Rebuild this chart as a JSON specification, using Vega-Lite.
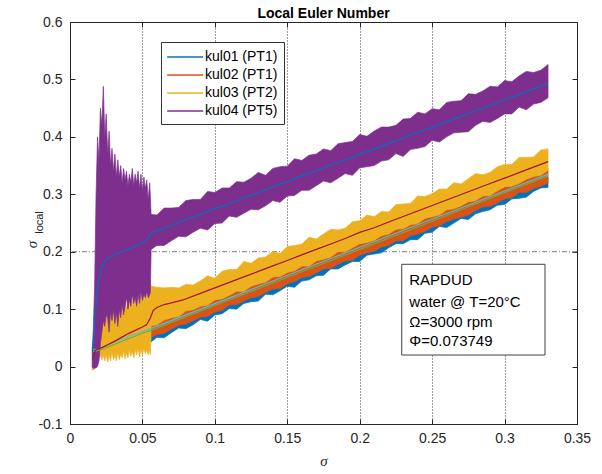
{
"$schema": "https://vega.github.io/schema/vega-lite/v6.json",
"width": 507,
"height": 402,
"autosize": {"type": "none"},
"padding": {"left": 70, "top": 22, "right": 25, "bottom": 50},
"background": "white",
"title": {"text": "Local Euler Number", "fontSize": 14, "fontWeight": "bold", "font": "Liberation Sans", "color": "black", "offset": 5, "dy": 11, "anchor": "middle"},
"config": {"font": "Liberation Sans", "view": {"stroke": "#262626", "strokeWidth": 1}},
"datasets": {
"bands": [
{"s":"kul01 (PT1)","x":0.056,"lo":0.043,"hi":0.062},{"s":"kul01 (PT1)","x":0.06,"lo":0.051,"hi":0.066},{"s":"kul01 (PT1)","x":0.065,"lo":0.050,"hi":0.070},{"s":"kul01 (PT1)","x":0.07,"lo":0.059,"hi":0.075},{"s":"kul01 (PT1)","x":0.075,"lo":0.067,"hi":0.080},{"s":"kul01 (PT1)","x":0.08,"lo":0.066,"hi":0.085},{"s":"kul01 (PT1)","x":0.085,"lo":0.073,"hi":0.090},{"s":"kul01 (PT1)","x":0.09,"lo":0.082,"hi":0.095},{"s":"kul01 (PT1)","x":0.095,"lo":0.079,"hi":0.100},{"s":"kul01 (PT1)","x":0.1,"lo":0.090,"hi":0.105},{"s":"kul01 (PT1)","x":0.105,"lo":0.092,"hi":0.110},{"s":"kul01 (PT1)","x":0.11,"lo":0.101,"hi":0.115},{"s":"kul01 (PT1)","x":0.115,"lo":0.100,"hi":0.119},{"s":"kul01 (PT1)","x":0.12,"lo":0.110,"hi":0.124},{"s":"kul01 (PT1)","x":0.125,"lo":0.113,"hi":0.129},{"s":"kul01 (PT1)","x":0.13,"lo":0.114,"hi":0.134},{"s":"kul01 (PT1)","x":0.135,"lo":0.126,"hi":0.139},{"s":"kul01 (PT1)","x":0.14,"lo":0.125,"hi":0.144},{"s":"kul01 (PT1)","x":0.145,"lo":0.132,"hi":0.149},{"s":"kul01 (PT1)","x":0.15,"lo":0.140,"hi":0.154},{"s":"kul01 (PT1)","x":0.155,"lo":0.138,"hi":0.159},{"s":"kul01 (PT1)","x":0.16,"lo":0.149,"hi":0.164},{"s":"kul01 (PT1)","x":0.165,"lo":0.151,"hi":0.168},{"s":"kul01 (PT1)","x":0.17,"lo":0.158,"hi":0.173},{"s":"kul01 (PT1)","x":0.175,"lo":0.159,"hi":0.178},{"s":"kul01 (PT1)","x":0.18,"lo":0.170,"hi":0.183},{"s":"kul01 (PT1)","x":0.185,"lo":0.170,"hi":0.188},{"s":"kul01 (PT1)","x":0.19,"lo":0.177,"hi":0.193},{"s":"kul01 (PT1)","x":0.195,"lo":0.183,"hi":0.198},{"s":"kul01 (PT1)","x":0.2,"lo":0.183,"hi":0.203},{"s":"kul01 (PT1)","x":0.205,"lo":0.194,"hi":0.208},{"s":"kul01 (PT1)","x":0.21,"lo":0.196,"hi":0.213},{"s":"kul01 (PT1)","x":0.215,"lo":0.198,"hi":0.217},{"s":"kul01 (PT1)","x":0.22,"lo":0.207,"hi":0.222},{"s":"kul01 (PT1)","x":0.225,"lo":0.214,"hi":0.227},{"s":"kul01 (PT1)","x":0.23,"lo":0.214,"hi":0.232},{"s":"kul01 (PT1)","x":0.235,"lo":0.221,"hi":0.237},{"s":"kul01 (PT1)","x":0.24,"lo":0.221,"hi":0.242},{"s":"kul01 (PT1)","x":0.245,"lo":0.232,"hi":0.247},{"s":"kul01 (PT1)","x":0.25,"lo":0.234,"hi":0.252},{"s":"kul01 (PT1)","x":0.255,"lo":0.244,"hi":0.257},{"s":"kul01 (PT1)","x":0.26,"lo":0.242,"hi":0.262},{"s":"kul01 (PT1)","x":0.265,"lo":0.250,"hi":0.266},{"s":"kul01 (PT1)","x":0.27,"lo":0.258,"hi":0.271},{"s":"kul01 (PT1)","x":0.275,"lo":0.256,"hi":0.276},{"s":"kul01 (PT1)","x":0.28,"lo":0.266,"hi":0.281},{"s":"kul01 (PT1)","x":0.285,"lo":0.270,"hi":0.286},{"s":"kul01 (PT1)","x":0.29,"lo":0.273,"hi":0.291},{"s":"kul01 (PT1)","x":0.295,"lo":0.281,"hi":0.296},{"s":"kul01 (PT1)","x":0.3,"lo":0.282,"hi":0.301},{"s":"kul01 (PT1)","x":0.305,"lo":0.292,"hi":0.306},{"s":"kul01 (PT1)","x":0.31,"lo":0.293,"hi":0.311},{"s":"kul01 (PT1)","x":0.315,"lo":0.295,"hi":0.315},{"s":"kul01 (PT1)","x":0.32,"lo":0.305,"hi":0.320},{"s":"kul01 (PT1)","x":0.325,"lo":0.311,"hi":0.325},{"s":"kul01 (PT1)","x":0.33,"lo":0.312,"hi":0.330},
{"s":"kul02 (PT1)","x":0.056,"lo":0.051,"hi":0.075},{"s":"kul02 (PT1)","x":0.06,"lo":0.056,"hi":0.077},{"s":"kul02 (PT1)","x":0.065,"lo":0.058,"hi":0.085},{"s":"kul02 (PT1)","x":0.07,"lo":0.065,"hi":0.089},{"s":"kul02 (PT1)","x":0.075,"lo":0.072,"hi":0.091},{"s":"kul02 (PT1)","x":0.08,"lo":0.074,"hi":0.101},{"s":"kul02 (PT1)","x":0.085,"lo":0.080,"hi":0.103},{"s":"kul02 (PT1)","x":0.09,"lo":0.086,"hi":0.109},{"s":"kul02 (PT1)","x":0.095,"lo":0.087,"hi":0.111},{"s":"kul02 (PT1)","x":0.1,"lo":0.095,"hi":0.120},{"s":"kul02 (PT1)","x":0.105,"lo":0.098,"hi":0.122},{"s":"kul02 (PT1)","x":0.11,"lo":0.107,"hi":0.128},{"s":"kul02 (PT1)","x":0.115,"lo":0.108,"hi":0.135},{"s":"kul02 (PT1)","x":0.12,"lo":0.114,"hi":0.135},{"s":"kul02 (PT1)","x":0.125,"lo":0.120,"hi":0.144},{"s":"kul02 (PT1)","x":0.13,"lo":0.122,"hi":0.148},{"s":"kul02 (PT1)","x":0.135,"lo":0.129,"hi":0.151},{"s":"kul02 (PT1)","x":0.14,"lo":0.135,"hi":0.160},{"s":"kul02 (PT1)","x":0.145,"lo":0.136,"hi":0.161},{"s":"kul02 (PT1)","x":0.15,"lo":0.144,"hi":0.168},{"s":"kul02 (PT1)","x":0.155,"lo":0.148,"hi":0.171},{"s":"kul02 (PT1)","x":0.16,"lo":0.155,"hi":0.179},{"s":"kul02 (PT1)","x":0.165,"lo":0.157,"hi":0.179},{"s":"kul02 (PT1)","x":0.17,"lo":0.163,"hi":0.188},{"s":"kul02 (PT1)","x":0.175,"lo":0.170,"hi":0.191},{"s":"kul02 (PT1)","x":0.18,"lo":0.171,"hi":0.195},{"s":"kul02 (PT1)","x":0.185,"lo":0.178,"hi":0.204},{"s":"kul02 (PT1)","x":0.19,"lo":0.184,"hi":0.204},{"s":"kul02 (PT1)","x":0.195,"lo":0.185,"hi":0.211},{"s":"kul02 (PT1)","x":0.2,"lo":0.194,"hi":0.218},{"s":"kul02 (PT1)","x":0.205,"lo":0.198,"hi":0.220},{"s":"kul02 (PT1)","x":0.21,"lo":0.201,"hi":0.224},{"s":"kul02 (PT1)","x":0.215,"lo":0.208,"hi":0.232},{"s":"kul02 (PT1)","x":0.22,"lo":0.211,"hi":0.235},{"s":"kul02 (PT1)","x":0.225,"lo":0.219,"hi":0.243},{"s":"kul02 (PT1)","x":0.23,"lo":0.219,"hi":0.244},{"s":"kul02 (PT1)","x":0.235,"lo":0.228,"hi":0.251},{"s":"kul02 (PT1)","x":0.24,"lo":0.231,"hi":0.253},{"s":"kul02 (PT1)","x":0.245,"lo":0.235,"hi":0.262},{"s":"kul02 (PT1)","x":0.25,"lo":0.243,"hi":0.265},{"s":"kul02 (PT1)","x":0.255,"lo":0.245,"hi":0.268},{"s":"kul02 (PT1)","x":0.26,"lo":0.252,"hi":0.277},{"s":"kul02 (PT1)","x":0.265,"lo":0.257,"hi":0.279},{"s":"kul02 (PT1)","x":0.27,"lo":0.260,"hi":0.284},{"s":"kul02 (PT1)","x":0.275,"lo":0.264,"hi":0.291},{"s":"kul02 (PT1)","x":0.28,"lo":0.272,"hi":0.293},{"s":"kul02 (PT1)","x":0.285,"lo":0.278,"hi":0.301},{"s":"kul02 (PT1)","x":0.29,"lo":0.279,"hi":0.302},{"s":"kul02 (PT1)","x":0.295,"lo":0.285,"hi":0.310},{"s":"kul02 (PT1)","x":0.3,"lo":0.292,"hi":0.317},{"s":"kul02 (PT1)","x":0.305,"lo":0.294,"hi":0.318},{"s":"kul02 (PT1)","x":0.31,"lo":0.303,"hi":0.323},{"s":"kul02 (PT1)","x":0.315,"lo":0.303,"hi":0.330},{"s":"kul02 (PT1)","x":0.32,"lo":0.310,"hi":0.335},{"s":"kul02 (PT1)","x":0.325,"lo":0.314,"hi":0.337},{"s":"kul02 (PT1)","x":0.33,"lo":0.320,"hi":0.346},
{"s":"kul03 (PT2)","x":0.0153,"lo":-0.006,"hi":0.0},{"s":"kul03 (PT2)","x":0.016,"lo":-0.006,"hi":0.005},{"s":"kul03 (PT2)","x":0.017,"lo":-0.004,"hi":0.01},{"s":"kul03 (PT2)","x":0.018,"lo":0.005,"hi":0.03},{"s":"kul03 (PT2)","x":0.019,"lo":0.012,"hi":0.06},{"s":"kul03 (PT2)","x":0.02,"lo":0.015,"hi":0.09},{"s":"kul03 (PT2)","x":0.021,"lo":0.02,"hi":0.085},{"s":"kul03 (PT2)","x":0.022,"lo":0.012,"hi":0.1},{"s":"kul03 (PT2)","x":0.023,"lo":0.02,"hi":0.09},{"s":"kul03 (PT2)","x":0.024,"lo":0.01,"hi":0.11},{"s":"kul03 (PT2)","x":0.025,"lo":0.022,"hi":0.085},{"s":"kul03 (PT2)","x":0.026,"lo":0.008,"hi":0.1},{"s":"kul03 (PT2)","x":0.027,"lo":0.02,"hi":0.09},{"s":"kul03 (PT2)","x":0.028,"lo":0.01,"hi":0.115},{"s":"kul03 (PT2)","x":0.029,"lo":0.025,"hi":0.09},{"s":"kul03 (PT2)","x":0.03,"lo":0.012,"hi":0.105},{"s":"kul03 (PT2)","x":0.031,"lo":0.02,"hi":0.095},{"s":"kul03 (PT2)","x":0.032,"lo":0.01,"hi":0.12},{"s":"kul03 (PT2)","x":0.033,"lo":0.025,"hi":0.09},{"s":"kul03 (PT2)","x":0.034,"lo":0.012,"hi":0.11},{"s":"kul03 (PT2)","x":0.035,"lo":0.022,"hi":0.1},{"s":"kul03 (PT2)","x":0.036,"lo":0.015,"hi":0.125},{"s":"kul03 (PT2)","x":0.037,"lo":0.028,"hi":0.095},{"s":"kul03 (PT2)","x":0.038,"lo":0.013,"hi":0.115},{"s":"kul03 (PT2)","x":0.039,"lo":0.025,"hi":0.1},{"s":"kul03 (PT2)","x":0.04,"lo":0.015,"hi":0.12},{"s":"kul03 (PT2)","x":0.041,"lo":0.03,"hi":0.105},{"s":"kul03 (PT2)","x":0.042,"lo":0.018,"hi":0.13},{"s":"kul03 (PT2)","x":0.043,"lo":0.027,"hi":0.11},{"s":"kul03 (PT2)","x":0.044,"lo":0.015,"hi":0.125},{"s":"kul03 (PT2)","x":0.045,"lo":0.03,"hi":0.105},{"s":"kul03 (PT2)","x":0.046,"lo":0.02,"hi":0.13},{"s":"kul03 (PT2)","x":0.047,"lo":0.032,"hi":0.11},{"s":"kul03 (PT2)","x":0.048,"lo":0.017,"hi":0.125},{"s":"kul03 (PT2)","x":0.049,"lo":0.03,"hi":0.115},{"s":"kul03 (PT2)","x":0.05,"lo":0.02,"hi":0.135},{"s":"kul03 (PT2)","x":0.051,"lo":0.032,"hi":0.115},{"s":"kul03 (PT2)","x":0.052,"lo":0.022,"hi":0.13},{"s":"kul03 (PT2)","x":0.053,"lo":0.03,"hi":0.12},{"s":"kul03 (PT2)","x":0.054,"lo":0.02,"hi":0.14},{"s":"kul03 (PT2)","x":0.055,"lo":0.03,"hi":0.15},{"s":"kul03 (PT2)","x":0.0555,"lo":0.02,"hi":0.148},
{"s":"kul03 (PT2)","x":0.056,"lo":0.071,"hi":0.140},{"s":"kul03 (PT2)","x":0.06,"lo":0.073,"hi":0.138},{"s":"kul03 (PT2)","x":0.065,"lo":0.081,"hi":0.137},{"s":"kul03 (PT2)","x":0.07,"lo":0.085,"hi":0.138},{"s":"kul03 (PT2)","x":0.075,"lo":0.087,"hi":0.137},{"s":"kul03 (PT2)","x":0.08,"lo":0.097,"hi":0.143},{"s":"kul03 (PT2)","x":0.085,"lo":0.099,"hi":0.142},{"s":"kul03 (PT2)","x":0.09,"lo":0.105,"hi":0.149},{"s":"kul03 (PT2)","x":0.095,"lo":0.107,"hi":0.158},{"s":"kul03 (PT2)","x":0.1,"lo":0.116,"hi":0.154},{"s":"kul03 (PT2)","x":0.105,"lo":0.118,"hi":0.166},{"s":"kul03 (PT2)","x":0.11,"lo":0.124,"hi":0.169},{"s":"kul03 (PT2)","x":0.115,"lo":0.131,"hi":0.169},{"s":"kul03 (PT2)","x":0.12,"lo":0.131,"hi":0.183},{"s":"kul03 (PT2)","x":0.125,"lo":0.140,"hi":0.180},{"s":"kul03 (PT2)","x":0.13,"lo":0.144,"hi":0.189},{"s":"kul03 (PT2)","x":0.135,"lo":0.147,"hi":0.191},{"s":"kul03 (PT2)","x":0.14,"lo":0.156,"hi":0.200},{"s":"kul03 (PT2)","x":0.145,"lo":0.157,"hi":0.197},{"s":"kul03 (PT2)","x":0.15,"lo":0.164,"hi":0.209},{"s":"kul03 (PT2)","x":0.155,"lo":0.167,"hi":0.211},{"s":"kul03 (PT2)","x":0.16,"lo":0.175,"hi":0.213},{"s":"kul03 (PT2)","x":0.165,"lo":0.175,"hi":0.225},{"s":"kul03 (PT2)","x":0.17,"lo":0.184,"hi":0.222},{"s":"kul03 (PT2)","x":0.175,"lo":0.187,"hi":0.231},{"s":"kul03 (PT2)","x":0.18,"lo":0.191,"hi":0.239},{"s":"kul03 (PT2)","x":0.185,"lo":0.200,"hi":0.238},{"s":"kul03 (PT2)","x":0.19,"lo":0.200,"hi":0.241},{"s":"kul03 (PT2)","x":0.195,"lo":0.207,"hi":0.252},{"s":"kul03 (PT2)","x":0.2,"lo":0.214,"hi":0.254},{"s":"kul03 (PT2)","x":0.205,"lo":0.216,"hi":0.264},{"s":"kul03 (PT2)","x":0.21,"lo":0.220,"hi":0.261},{"s":"kul03 (PT2)","x":0.215,"lo":0.228,"hi":0.270},{"s":"kul03 (PT2)","x":0.22,"lo":0.231,"hi":0.269},{"s":"kul03 (PT2)","x":0.225,"lo":0.239,"hi":0.282},{"s":"kul03 (PT2)","x":0.23,"lo":0.240,"hi":0.283},{"s":"kul03 (PT2)","x":0.235,"lo":0.247,"hi":0.284},{"s":"kul03 (PT2)","x":0.24,"lo":0.249,"hi":0.297},{"s":"kul03 (PT2)","x":0.245,"lo":0.258,"hi":0.296},{"s":"kul03 (PT2)","x":0.25,"lo":0.261,"hi":0.301},{"s":"kul03 (PT2)","x":0.255,"lo":0.264,"hi":0.309},{"s":"kul03 (PT2)","x":0.26,"lo":0.273,"hi":0.309},{"s":"kul03 (PT2)","x":0.265,"lo":0.275,"hi":0.320},{"s":"kul03 (PT2)","x":0.27,"lo":0.280,"hi":0.318},{"s":"kul03 (PT2)","x":0.275,"lo":0.287,"hi":0.327},{"s":"kul03 (PT2)","x":0.28,"lo":0.289,"hi":0.336},{"s":"kul03 (PT2)","x":0.285,"lo":0.297,"hi":0.334},{"s":"kul03 (PT2)","x":0.29,"lo":0.298,"hi":0.338},{"s":"kul03 (PT2)","x":0.295,"lo":0.306,"hi":0.348},{"s":"kul03 (PT2)","x":0.3,"lo":0.313,"hi":0.352},{"s":"kul03 (PT2)","x":0.305,"lo":0.314,"hi":0.352},{"s":"kul03 (PT2)","x":0.31,"lo":0.319,"hi":0.364},{"s":"kul03 (PT2)","x":0.315,"lo":0.326,"hi":0.364},{"s":"kul03 (PT2)","x":0.32,"lo":0.331,"hi":0.365},{"s":"kul03 (PT2)","x":0.325,"lo":0.333,"hi":0.377},{"s":"kul03 (PT2)","x":0.33,"lo":0.342,"hi":0.379},
{"s":"kul04 (PT5)","x":0.0153,"lo":0.0,"hi":0.03},{"s":"kul04 (PT5)","x":0.016,"lo":-0.003,"hi":0.06},{"s":"kul04 (PT5)","x":0.017,"lo":-0.003,"hi":0.14},{"s":"kul04 (PT5)","x":0.018,"lo":-0.002,"hi":0.3},{"s":"kul04 (PT5)","x":0.019,"lo":0.0,"hi":0.4},{"s":"kul04 (PT5)","x":0.02,"lo":0.01,"hi":0.36},{"s":"kul04 (PT5)","x":0.021,"lo":0.04,"hi":0.45},{"s":"kul04 (PT5)","x":0.022,"lo":0.06,"hi":0.42},{"s":"kul04 (PT5)","x":0.023,"lo":0.08,"hi":0.488},{"s":"kul04 (PT5)","x":0.024,"lo":0.07,"hi":0.4},{"s":"kul04 (PT5)","x":0.025,"lo":0.09,"hi":0.44},{"s":"kul04 (PT5)","x":0.026,"lo":0.085,"hi":0.37},{"s":"kul04 (PT5)","x":0.027,"lo":0.06,"hi":0.41},{"s":"kul04 (PT5)","x":0.028,"lo":0.095,"hi":0.35},{"s":"kul04 (PT5)","x":0.029,"lo":0.08,"hi":0.38},{"s":"kul04 (PT5)","x":0.03,"lo":0.1,"hi":0.34},{"s":"kul04 (PT5)","x":0.031,"lo":0.075,"hi":0.37},{"s":"kul04 (PT5)","x":0.032,"lo":0.095,"hi":0.33},{"s":"kul04 (PT5)","x":0.033,"lo":0.07,"hi":0.36},{"s":"kul04 (PT5)","x":0.034,"lo":0.1,"hi":0.33},{"s":"kul04 (PT5)","x":0.035,"lo":0.085,"hi":0.35},{"s":"kul04 (PT5)","x":0.036,"lo":0.11,"hi":0.32},{"s":"kul04 (PT5)","x":0.037,"lo":0.09,"hi":0.345},{"s":"kul04 (PT5)","x":0.038,"lo":0.105,"hi":0.325},{"s":"kul04 (PT5)","x":0.039,"lo":0.12,"hi":0.34},{"s":"kul04 (PT5)","x":0.04,"lo":0.1,"hi":0.315},{"s":"kul04 (PT5)","x":0.041,"lo":0.115,"hi":0.335},{"s":"kul04 (PT5)","x":0.042,"lo":0.105,"hi":0.32},{"s":"kul04 (PT5)","x":0.043,"lo":0.125,"hi":0.345},{"s":"kul04 (PT5)","x":0.044,"lo":0.11,"hi":0.315},{"s":"kul04 (PT5)","x":0.045,"lo":0.12,"hi":0.335},{"s":"kul04 (PT5)","x":0.046,"lo":0.105,"hi":0.32},{"s":"kul04 (PT5)","x":0.047,"lo":0.125,"hi":0.34},{"s":"kul04 (PT5)","x":0.048,"lo":0.11,"hi":0.31},{"s":"kul04 (PT5)","x":0.049,"lo":0.13,"hi":0.335},{"s":"kul04 (PT5)","x":0.05,"lo":0.115,"hi":0.305},{"s":"kul04 (PT5)","x":0.051,"lo":0.125,"hi":0.33},{"s":"kul04 (PT5)","x":0.052,"lo":0.12,"hi":0.31},{"s":"kul04 (PT5)","x":0.053,"lo":0.13,"hi":0.325},{"s":"kul04 (PT5)","x":0.054,"lo":0.12,"hi":0.29},{"s":"kul04 (PT5)","x":0.055,"lo":0.125,"hi":0.32},{"s":"kul04 (PT5)","x":0.0555,"lo":0.13,"hi":0.295},
{"s":"kul04 (PT5)","x":0.056,"lo":0.204,"hi":0.265},{"s":"kul04 (PT5)","x":0.06,"lo":0.211,"hi":0.264},{"s":"kul04 (PT5)","x":0.065,"lo":0.211,"hi":0.276},{"s":"kul04 (PT5)","x":0.07,"lo":0.219,"hi":0.276},{"s":"kul04 (PT5)","x":0.075,"lo":0.227,"hi":0.277},{"s":"kul04 (PT5)","x":0.08,"lo":0.226,"hi":0.289},{"s":"kul04 (PT5)","x":0.085,"lo":0.234,"hi":0.291},{"s":"kul04 (PT5)","x":0.09,"lo":0.241,"hi":0.291},{"s":"kul04 (PT5)","x":0.095,"lo":0.238,"hi":0.305},{"s":"kul04 (PT5)","x":0.1,"lo":0.249,"hi":0.303},{"s":"kul04 (PT5)","x":0.105,"lo":0.250,"hi":0.311},{"s":"kul04 (PT5)","x":0.11,"lo":0.262,"hi":0.311},{"s":"kul04 (PT5)","x":0.115,"lo":0.260,"hi":0.322},{"s":"kul04 (PT5)","x":0.12,"lo":0.267,"hi":0.321},{"s":"kul04 (PT5)","x":0.125,"lo":0.274,"hi":0.328},{"s":"kul04 (PT5)","x":0.13,"lo":0.273,"hi":0.338},{"s":"kul04 (PT5)","x":0.135,"lo":0.280,"hi":0.333},{"s":"kul04 (PT5)","x":0.14,"lo":0.289,"hi":0.345},{"s":"kul04 (PT5)","x":0.145,"lo":0.286,"hi":0.348},{"s":"kul04 (PT5)","x":0.15,"lo":0.297,"hi":0.349},{"s":"kul04 (PT5)","x":0.155,"lo":0.298,"hi":0.362},{"s":"kul04 (PT5)","x":0.16,"lo":0.307,"hi":0.359},{"s":"kul04 (PT5)","x":0.165,"lo":0.307,"hi":0.368},{"s":"kul04 (PT5)","x":0.17,"lo":0.315,"hi":0.370},{"s":"kul04 (PT5)","x":0.175,"lo":0.323,"hi":0.379},{"s":"kul04 (PT5)","x":0.18,"lo":0.320,"hi":0.376},{"s":"kul04 (PT5)","x":0.185,"lo":0.328,"hi":0.388},{"s":"kul04 (PT5)","x":0.19,"lo":0.336,"hi":0.390},{"s":"kul04 (PT5)","x":0.195,"lo":0.333,"hi":0.392},{"s":"kul04 (PT5)","x":0.2,"lo":0.346,"hi":0.404},{"s":"kul04 (PT5)","x":0.205,"lo":0.348,"hi":0.401},{"s":"kul04 (PT5)","x":0.21,"lo":0.350,"hi":0.410},{"s":"kul04 (PT5)","x":0.215,"lo":0.358,"hi":0.417},{"s":"kul04 (PT5)","x":0.22,"lo":0.360,"hi":0.417},{"s":"kul04 (PT5)","x":0.225,"lo":0.371,"hi":0.420},{"s":"kul04 (PT5)","x":0.23,"lo":0.366,"hi":0.431},{"s":"kul04 (PT5)","x":0.235,"lo":0.378,"hi":0.432},{"s":"kul04 (PT5)","x":0.24,"lo":0.380,"hi":0.443},{"s":"kul04 (PT5)","x":0.245,"lo":0.383,"hi":0.440},{"s":"kul04 (PT5)","x":0.25,"lo":0.394,"hi":0.449},{"s":"kul04 (PT5)","x":0.255,"lo":0.391,"hi":0.447},{"s":"kul04 (PT5)","x":0.26,"lo":0.400,"hi":0.460},{"s":"kul04 (PT5)","x":0.265,"lo":0.407,"hi":0.462},{"s":"kul04 (PT5)","x":0.27,"lo":0.408,"hi":0.463},{"s":"kul04 (PT5)","x":0.275,"lo":0.409,"hi":0.475},{"s":"kul04 (PT5)","x":0.28,"lo":0.420,"hi":0.474},{"s":"kul04 (PT5)","x":0.285,"lo":0.427,"hi":0.480},{"s":"kul04 (PT5)","x":0.29,"lo":0.425,"hi":0.488},{"s":"kul04 (PT5)","x":0.295,"lo":0.432,"hi":0.487},{"s":"kul04 (PT5)","x":0.3,"lo":0.440,"hi":0.498},{"s":"kul04 (PT5)","x":0.305,"lo":0.440,"hi":0.496},{"s":"kul04 (PT5)","x":0.31,"lo":0.452,"hi":0.506},{"s":"kul04 (PT5)","x":0.315,"lo":0.447,"hi":0.514},{"s":"kul04 (PT5)","x":0.32,"lo":0.457,"hi":0.512},{"s":"kul04 (PT5)","x":0.325,"lo":0.460,"hi":0.516},{"s":"kul04 (PT5)","x":0.33,"lo":0.468,"hi":0.526}
],
"means": [
{"m":"kul01 mean","x":0.0155,"y":0.026},{"m":"kul01 mean","x":0.02,"y":0.028},{"m":"kul01 mean","x":0.03,"y":0.038},{"m":"kul01 mean","x":0.04,"y":0.048},{"m":"kul01 mean","x":0.05,"y":0.058},{"m":"kul01 mean","x":0.056,"y":0.063},{"m":"kul01 mean","x":0.08,"y":0.087},{"m":"kul01 mean","x":0.12,"y":0.126},{"m":"kul01 mean","x":0.16,"y":0.165},{"m":"kul01 mean","x":0.2,"y":0.204},{"m":"kul01 mean","x":0.24,"y":0.243},{"m":"kul01 mean","x":0.28,"y":0.283},{"m":"kul01 mean","x":0.33,"y":0.332},
{"m":"kul02 mean","x":0.0155,"y":0.028},{"m":"kul02 mean","x":0.017,"y":0.03},{"m":"kul02 mean","x":0.02,"y":0.031},{"m":"kul02 mean","x":0.023,"y":0.034},{"m":"kul02 mean","x":0.03,"y":0.042},{"m":"kul02 mean","x":0.04,"y":0.052},{"m":"kul02 mean","x":0.05,"y":0.061},{"m":"kul02 mean","x":0.056,"y":0.0665},{"m":"kul02 mean","x":0.06,"y":0.0705},{"m":"kul02 mean","x":0.08,"y":0.0901},{"m":"kul02 mean","x":0.1,"y":0.1097},{"m":"kul02 mean","x":0.12,"y":0.1293},{"m":"kul02 mean","x":0.14,"y":0.1489},{"m":"kul02 mean","x":0.16,"y":0.1685},{"m":"kul02 mean","x":0.18,"y":0.1881},{"m":"kul02 mean","x":0.2,"y":0.2077},{"m":"kul02 mean","x":0.22,"y":0.2273},{"m":"kul02 mean","x":0.24,"y":0.2469},{"m":"kul02 mean","x":0.26,"y":0.2665},{"m":"kul02 mean","x":0.28,"y":0.2861},{"m":"kul02 mean","x":0.3,"y":0.3057},{"m":"kul02 mean","x":0.32,"y":0.3253},{"m":"kul02 mean","x":0.33,"y":0.3351},
{"m":"kul03 mean","x":0.0155,"y":0.012},{"m":"kul03 mean","x":0.017,"y":0.025},{"m":"kul03 mean","x":0.018,"y":0.03},{"m":"kul03 mean","x":0.022,"y":0.033},{"m":"kul03 mean","x":0.026,"y":0.038},{"m":"kul03 mean","x":0.03,"y":0.043},{"m":"kul03 mean","x":0.035,"y":0.05},{"m":"kul03 mean","x":0.04,"y":0.057},{"m":"kul03 mean","x":0.045,"y":0.063},{"m":"kul03 mean","x":0.05,"y":0.069},{"m":"kul03 mean","x":0.053,"y":0.073},{"m":"kul03 mean","x":0.0555,"y":0.085},{"m":"kul03 mean","x":0.0575,"y":0.098},{"m":"kul03 mean","x":0.06,"y":0.103},{"m":"kul03 mean","x":0.065,"y":0.108},{"m":"kul03 mean","x":0.07,"y":0.111},{"m":"kul03 mean","x":0.078,"y":0.116},{"m":"kul03 mean","x":0.09,"y":0.1275},{"m":"kul03 mean","x":0.1,"y":0.137},{"m":"kul03 mean","x":0.11,"y":0.1466},{"m":"kul03 mean","x":0.12,"y":0.1562},{"m":"kul03 mean","x":0.13,"y":0.1657},{"m":"kul03 mean","x":0.14,"y":0.1753},{"m":"kul03 mean","x":0.15,"y":0.1848},{"m":"kul03 mean","x":0.16,"y":0.1944},{"m":"kul03 mean","x":0.17,"y":0.204},{"m":"kul03 mean","x":0.18,"y":0.2135},{"m":"kul03 mean","x":0.19,"y":0.2231},{"m":"kul03 mean","x":0.2,"y":0.2336},{"m":"kul03 mean","x":0.21,"y":0.2418},{"m":"kul03 mean","x":0.22,"y":0.2518},{"m":"kul03 mean","x":0.23,"y":0.2613},{"m":"kul03 mean","x":0.24,"y":0.2709},{"m":"kul03 mean","x":0.25,"y":0.2804},{"m":"kul03 mean","x":0.26,"y":0.29},{"m":"kul03 mean","x":0.27,"y":0.2996},{"m":"kul03 mean","x":0.28,"y":0.3091},{"m":"kul03 mean","x":0.29,"y":0.3187},{"m":"kul03 mean","x":0.3,"y":0.3282},{"m":"kul03 mean","x":0.31,"y":0.3378},{"m":"kul03 mean","x":0.32,"y":0.3474},{"m":"kul03 mean","x":0.33,"y":0.3569},
{"m":"kul04 mean","x":0.0155,"y":0.025},{"m":"kul04 mean","x":0.0165,"y":0.05},{"m":"kul04 mean","x":0.0175,"y":0.09},{"m":"kul04 mean","x":0.0185,"y":0.125},{"m":"kul04 mean","x":0.0198,"y":0.15},{"m":"kul04 mean","x":0.0215,"y":0.17},{"m":"kul04 mean","x":0.024,"y":0.184},{"m":"kul04 mean","x":0.027,"y":0.19},{"m":"kul04 mean","x":0.031,"y":0.195},{"m":"kul04 mean","x":0.035,"y":0.199},{"m":"kul04 mean","x":0.04,"y":0.204},{"m":"kul04 mean","x":0.045,"y":0.21},{"m":"kul04 mean","x":0.05,"y":0.216},{"m":"kul04 mean","x":0.053,"y":0.221},{"m":"kul04 mean","x":0.0555,"y":0.23},{"m":"kul04 mean","x":0.058,"y":0.235},{"m":"kul04 mean","x":0.065,"y":0.241},{"m":"kul04 mean","x":0.07,"y":0.2456},{"m":"kul04 mean","x":0.08,"y":0.256},{"m":"kul04 mean","x":0.09,"y":0.2646},{"m":"kul04 mean","x":0.1,"y":0.275},{"m":"kul04 mean","x":0.11,"y":0.2836},{"m":"kul04 mean","x":0.12,"y":0.294},{"m":"kul04 mean","x":0.13,"y":0.3026},{"m":"kul04 mean","x":0.14,"y":0.313},{"m":"kul04 mean","x":0.15,"y":0.3216},{"m":"kul04 mean","x":0.16,"y":0.332},{"m":"kul04 mean","x":0.17,"y":0.3406},{"m":"kul04 mean","x":0.18,"y":0.351},{"m":"kul04 mean","x":0.19,"y":0.3596},{"m":"kul04 mean","x":0.2,"y":0.37},{"m":"kul04 mean","x":0.21,"y":0.3786},{"m":"kul04 mean","x":0.22,"y":0.389},{"m":"kul04 mean","x":0.23,"y":0.3976},{"m":"kul04 mean","x":0.24,"y":0.408},{"m":"kul04 mean","x":0.25,"y":0.4166},{"m":"kul04 mean","x":0.26,"y":0.427},{"m":"kul04 mean","x":0.27,"y":0.4356},{"m":"kul04 mean","x":0.28,"y":0.446},{"m":"kul04 mean","x":0.29,"y":0.4546},{"m":"kul04 mean","x":0.3,"y":0.465},{"m":"kul04 mean","x":0.31,"y":0.4736},{"m":"kul04 mean","x":0.32,"y":0.484},{"m":"kul04 mean","x":0.33,"y":0.4926}
]
},
"layer": [
{
"data": {"values": [{"yv": 0.2}]},
"mark": {"type": "rule", "color": "#7f7f7f", "strokeDash": [5, 2, 1, 2], "strokeWidth": 1},
"encoding": {"y": {"field": "yv", "type": "quantitative", "scale": {"domain": [-0.1, 0.6], "nice": false, "zero": false}, "axis": null}}
},
{
"data": {"name": "bands"},
"mark": {"type": "area", "opacity": 1, "interpolate": "linear", "strokeWidth": 0.7},
"encoding": {
"x": {"field": "x", "type": "quantitative", "scale": {"domain": [0, 0.35], "nice": false, "zero": false},
"axis": {"orient": "bottom", "values": [0, 0.05, 0.1, 0.15, 0.2, 0.25, 0.3, 0.35], "labelExpr": "toString(datum.value)", "grid": true, "gridDash": [1, 2], "gridColor": "#262626", "gridOpacity": 0.9, "domainColor": "#262626", "tickColor": "#262626", "tickSize": -5, "labelPadding": 12, "labelFontSize": 14, "labelColor": "#262626", "labelFlush": false, "labelOverlap": false, "title": "σ", "titleFont": "Liberation Serif", "titleFontStyle": "italic", "titleFontWeight": "normal", "titleFontSize": 15, "titleColor": "#262626", "titlePadding": 8}},
"y": {"field": "lo", "type": "quantitative", "scale": {"domain": [-0.1, 0.6], "nice": false, "zero": false},
"axis": {"orient": "left", "values": [-0.1, 0, 0.1, 0.2, 0.3, 0.4, 0.5, 0.6], "labelExpr": "toString(datum.value)", "grid": false, "domainColor": "#262626", "tickColor": "#262626", "tickSize": -5, "labelPadding": 13, "labelFontSize": 14, "labelColor": "#262626", "labelFlush": false, "labelOverlap": false, "title": "σ", "titleFont": "Liberation Serif", "titleFontStyle": "italic", "titleFontWeight": "normal", "titleFontSize": 15, "titleColor": "#262626", "titleX": -39, "titleY": 222, "titleAngle": -90, "titleAlign": "center", "titleBaseline": "middle"}},
"y2": {"field": "hi"},
"fill": {"field": "s", "type": "nominal", "scale": {"domain": ["kul01 (PT1)", "kul02 (PT1)", "kul03 (PT2)", "kul04 (PT5)"], "range": ["#0072BD", "#D95319", "#EDB120", "#7E2F8E"]},
"legend": {"title": null, "orient": "none", "legendX": 91, "legendY": 20, "direction": "vertical", "symbolType": "M-1.1,0H3.4", "symbolSize": 256, "symbolStrokeWidth": 1.5, "labelFontSize": 14, "labelColor": "#000000", "labelOffset": 20, "rowPadding": 2, "padding": 6, "strokeColor": "#333333", "fillColor": "white"}},
"stroke": {"field": "s", "type": "nominal", "scale": {"domain": ["kul01 (PT1)", "kul02 (PT1)", "kul03 (PT2)", "kul04 (PT5)"], "range": ["#0072BD", "#D95319", "#EDB120", "#7E2F8E"]},
"legend": {"title": null, "orient": "none", "legendX": 91, "legendY": 20, "direction": "vertical", "symbolType": "M-1.1,0H3.4", "symbolSize": 256, "symbolStrokeWidth": 1.5, "labelFontSize": 14, "labelColor": "#000000", "labelOffset": 20, "rowPadding": 2, "padding": 6, "strokeColor": "#333333", "fillColor": "white"}}
}
},
{
"data": {"name": "means"},
"mark": {"type": "line", "strokeWidth": 1.2},
"encoding": {
"x": {"field": "x", "type": "quantitative", "scale": {"domain": [0, 0.35], "nice": false, "zero": false}, "axis": null},
"y": {"field": "y", "type": "quantitative", "scale": {"domain": [-0.1, 0.6], "nice": false, "zero": false}, "axis": null},
"color": {"field": "m", "type": "nominal", "scale": {"domain": ["kul01 mean", "kul02 mean", "kul03 mean", "kul04 mean"], "range": ["#77AC30", "#4DBEEE", "#A2142F", "#0072BD"]}, "legend": null}
}
},
{
"data": {"values": [{"x": 0.229, "x2": 0.3279, "y": 0.1781, "y2": 0.0201}]},
"mark": {"type": "rect", "fill": "white", "stroke": "#404040", "strokeWidth": 1},
"encoding": {
"x": {"field": "x", "type": "quantitative", "scale": {"domain": [0, 0.35], "nice": false, "zero": false},
"axis": {"orient": "top", "values": [0, 0.05, 0.1, 0.15, 0.2, 0.25, 0.3, 0.35], "labels": false, "title": null, "grid": false, "domainColor": "#262626", "tickColor": "#262626", "tickSize": -5}},
"x2": {"field": "x2"},
"y": {"field": "y", "type": "quantitative", "scale": {"domain": [-0.1, 0.6], "nice": false, "zero": false},
"axis": {"orient": "right", "values": [-0.1, 0, 0.1, 0.2, 0.3, 0.4, 0.5, 0.6], "labels": false, "title": null, "grid": false, "domainColor": "#262626", "tickColor": "#262626", "tickSize": -5}},
"y2": {"field": "y2"}
}
},
{
"data": {"values": [{"t": "RAPDUD", "x": 0.2342, "y": 0.1507}, {"t": "water @ T=20°C", "x": 0.2342, "y": 0.113}, {"t": "Ω=3000 rpm", "x": 0.2342, "y": 0.0781}, {"t": "Φ=0.073749", "x": 0.2342, "y": 0.0445}]},
"mark": {"type": "text", "align": "left", "baseline": "middle", "fontSize": 15, "color": "#000000", "font": "Liberation Sans"},
"encoding": {
"x": {"field": "x", "type": "quantitative", "scale": {"domain": [0, 0.35], "nice": false, "zero": false}, "axis": null},
"y": {"field": "y", "type": "quantitative", "scale": {"domain": [-0.1, 0.6], "nice": false, "zero": false},
"axis": {"orient": "left", "labels": false, "ticks": false, "domain": false, "grid": false, "title": "local", "titleFont": "Liberation Sans", "titleFontSize": 11, "titleFontWeight": "normal", "titleColor": "#262626", "titleX": -31, "titleY": 200, "titleAngle": -90, "titleAlign": "center", "titleBaseline": "middle"}},
"text": {"field": "t"}
}
}
],
"resolve": {"axis": {"x": "independent", "y": "independent"}}
}
